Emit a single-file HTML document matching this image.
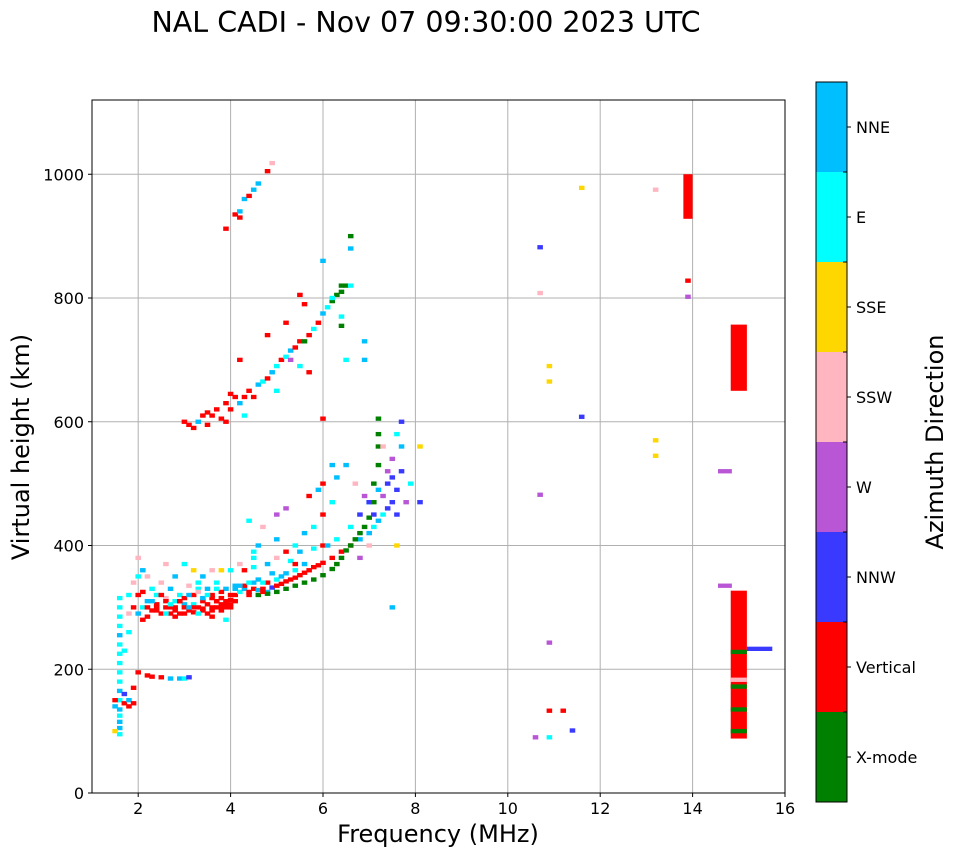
<!DOCTYPE html>
<html><head><meta charset="utf-8">
<style>
html,body{margin:0;padding:0;background:#fff;}
svg text{font-family:"DejaVu Sans","Liberation Sans",sans-serif;fill:#000;}
</style></head>
<body>
<svg id="chart" width="958" height="857" viewBox="0 0 958 857" xmlns="http://www.w3.org/2000/svg">
<text x="426" y="32" font-size="28.5" text-anchor="middle">NAL CADI - Nov 07 09:30:00 2023 UTC</text>
<g id="grid"></g>
<g id="marks"></g>
<rect x="92" y="100" width="693" height="693" fill="none" stroke="#000" stroke-width="1"/>
<g id="xticks"></g>
<g id="yticks"></g>
<text x="438" y="842" font-size="24" text-anchor="middle">Frequency (MHz)</text>
<text transform="translate(29,447) rotate(-90)" font-size="24" text-anchor="middle">Virtual height (km)</text>
<g id="cbar"></g>
<text transform="translate(943,442) rotate(-90)" font-size="24" text-anchor="middle">Azimuth Direction</text>
</svg>
<script>
const dirNames = ["X-mode","Vertical","NNW","W","SSW","SSE","E","NNE"];
const dirColors = ["#008000","#ff0000","#3a3aff","#b956d6","#ffb6c1","#ffd700","#00ffff","#00bfff"];
const xTicks = [2,4,6,8,10,12,14,16];
const yTicks = [0,200,400,600,800,1000];
const freqs = [1.6,1.6,1.6,1.6,1.6,1.6,1.6,1.6,1.6,1.6,1.6,1.6,1.6,1.6,1.6,1.6,1.6,1.5,1.5,1.5,1.7,1.7,1.8,1.8,1.9,1.9,1.7,1.8,1.8,1.8,1.9,1.9,2.0,2.0,2.0,2.0,2.1,2.1,2.1,2.2,2.2,2.2,
2.3,2.5,2.7,2.9,3.0,3.1,2.0,
2.3,2.4,2.5,2.6,2.7,2.8,2.9,3.0,3.1,3.2,3.3,3.4,3.5,3.6,3.7,3.8,3.9,4.0,3.8,3.6,3.4,3.2,3.0,2.8,2.6,2.4,2.5,2.7,2.9,3.1,3.3,3.5,3.7,3.9,4.1,4.2,4.3,4.4,4.5,4.6,4.7,4.8,4.9,5.0,5.1,5.2,5.3,5.4,5.5,5.6,5.7,5.8,5.9,6.0,6.2,6.4,6.6,6.8,7.0,7.1,7.2,7.3,7.4,7.5,7.6,7.7,7.7,7.6,7.7,
4.6,4.8,5.0,5.2,5.4,5.6,5.8,6.0,6.2,6.3,6.4,6.5,6.6,6.7,6.8,6.9,7.0,7.1,7.1,7.2,7.2,7.2,7.2,6.6,6.4,6.3,6.2,
4.0,4.2,4.5,4.8,5.0,5.2,5.4,5.6,5.8,6.0,6.2,6.3,6.5,6.7,6.9,7.0,7.1,7.3,7.4,7.5,7.3,7.5,7.6,7.8,7.9,8.1,8.1,7.6,7.0,6.8,6.0,5.2,5.0,4.7,4.4,3.9,3.0,2.6,2.8,3.2,3.6,3.8,3.4,2.2,2.3,7.5,6.0,6.2,5.7,5.9,
2.4,2.6,2.8,3.0,3.2,3.4,3.6,3.8,4.0,3.5,3.7,3.9,3.3,3.1,2.9,2.7,4.1,4.3,4.5,4.7,
3.0,3.1,3.2,3.3,3.4,3.5,3.6,3.7,3.8,3.9,4.0,4.1,4.2,4.3,4.4,4.5,4.6,4.7,4.8,4.9,5.0,5.1,5.2,5.3,5.4,5.5,5.6,5.7,5.8,5.9,6.0,6.1,6.2,6.4,6.5,6.6,6.6,6.4,6.4,6.5,6.9,6.9,6.0,5.7,5.5,5.3,5.0,4.8,5.2,5.6,5.5,6.0,4.0,4.3,3.5,3.9,4.2,
3.9,4.1,4.2,4.3,4.4,4.5,4.6,4.8,4.9,4.2,
10.7,10.7,10.9,10.9,11.6,11.6,13.2,13.2,13.2,10.7,10.9,10.9,10.6,10.9,11.2,11.4,13.9,13.9,14.7,14.7,15.45,
15.0,15.0,15.0,15.0,15.0,
3.5,3.6,3.7,3.8,3.9,4.0,4.1,3.6,3.8,4.0,3.4,3.2,3.0,2.8,2.6,2.4,2.2,2.1,2.3,2.5,2.7,2.9,3.1,3.3,4.2,4.4,4.6,4.8,5.0,5.2,5.4,5.6,4.3,4.5,4.9,5.3,5.5,5.8,6.1,6.3,6.6,6.8,7.0,7.2,7.4,3.3,3.7,4.1,4.4,4.7,5.1,5.4,5.0,4.6,4.5];
const heights = [95,105,115,125,135,150,165,180,195,210,225,240,255,270,285,300,315,100,140,150,145,160,150,140,145,170,230,260,290,320,340,300,380,350,320,290,280,300,360,285,310,190,
188,187,185,185,185,187,195,
295,300,290,300,290,295,290,290,295,292,300,298,305,300,310,305,310,312,315,315,310,305,305,310,315,320,340,330,320,335,340,330,340,330,320,325,330,325,330,328,330,325,332,335,338,342,345,348,352,356,360,365,368,372,380,390,400,410,420,430,440,450,460,470,490,520,560,580,600,
320,322,325,330,335,340,345,352,362,370,380,392,400,410,420,430,445,470,500,530,560,580,605,900,820,805,795,
360,370,380,370,380,390,400,420,430,450,470,510,530,500,480,470,450,480,520,540,560,510,450,470,500,470,560,400,400,380,400,460,450,430,440,280,370,370,350,360,360,360,350,350,330,300,500,530,480,490,
305,310,300,315,320,315,320,325,320,320,310,300,330,320,310,300,330,335,340,325,
600,595,590,600,610,615,610,620,605,630,620,640,630,640,650,640,660,665,670,680,690,700,705,715,720,730,730,740,750,760,775,785,800,810,820,820,880,770,755,700,730,700,605,680,690,700,650,740,760,790,805,860,645,610,595,600,700,
912,935,940,960,965,975,985,1005,1018,930,
882,808,690,665,608,978,975,570,545,482,243,90,90,133,133,101,828,802,520,335,233,
228,172,135,100,183,
290,295,300,300,305,305,310,285,295,300,295,300,300,285,290,295,300,325,310,320,305,310,300,290,335,340,345,340,345,355,360,370,360,365,355,375,390,395,400,410,430,450,470,490,500,325,330,335,320,340,350,370,410,400,390];
const dirs = [6,7,7,6,7,6,7,6,6,6,6,6,7,6,6,6,6,5,7,1,1,2,7,1,1,1,6,6,4,6,4,1,4,6,1,7,1,6,7,1,7,1,
1,1,7,7,6,2,1,
1,1,1,1,1,1,1,1,1,1,1,1,1,1,1,1,1,1,1,1,1,6,7,6,4,6,4,7,6,4,6,7,6,7,1,6,7,1,1,7,1,7,2,1,1,1,1,1,1,1,1,1,1,1,1,1,1,7,7,6,7,6,2,2,2,2,7,6,2,
0,0,0,0,0,0,0,0,0,0,0,0,0,0,0,0,0,0,0,0,0,0,0,0,0,0,0,
6,4,6,7,4,1,6,7,6,1,6,7,7,4,3,6,2,3,3,3,4,2,2,3,6,2,5,5,4,3,1,3,3,4,6,6,6,4,7,5,4,5,7,4,6,7,1,7,1,7,
1,1,1,1,1,7,1,1,1,6,1,1,6,7,1,1,7,1,7,1,
1,1,1,7,1,1,1,1,1,1,1,1,7,1,1,1,7,6,1,7,6,1,6,7,1,1,0,1,6,1,7,6,6,0,0,6,7,6,0,6,7,7,1,1,6,3,6,1,1,1,1,7,1,6,1,1,1,
1,1,7,7,1,7,7,1,4,1,
2,4,5,5,2,5,4,5,5,3,3,6,3,1,1,2,1,3,3,3,2,
0,0,0,0,4,
1,1,1,1,1,1,1,1,1,1,1,1,1,1,6,1,1,1,7,1,6,1,7,6,7,6,7,1,6,7,6,7,1,6,7,6,7,6,7,6,6,2,2,7,2,4,6,7,1,6,7,1,7,7,6];
const barFreqs = [13.9,15.0,15.0];
const barLows = [928,650,88];
const barHighs = [1000,757,327];
const barDirs = [1,1,1];

const X0=92,X1=785,Y0=793,Y1=100;
const xs = f => X0 + (f-1)/(16-1)*(X1-X0);
const ys = h => Y0 - h/1120*(Y0-Y1);
const NS="http://www.w3.org/2000/svg";
function mk(tag, parent){const e=document.createElementNS(NS,tag);parent.appendChild(e);return e;}

const grid=document.getElementById('grid'), xt=document.getElementById('xticks'), yt=document.getElementById('yticks');
xTicks.forEach(t=>{
  const x=xs(t);
  if(t<16){const l=mk('line',grid);l.setAttribute('x1',x);l.setAttribute('x2',x);l.setAttribute('y1',Y1);l.setAttribute('y2',Y0);l.setAttribute('stroke','#b0b0b0');l.setAttribute('stroke-width','1');
  
  }
  const tk=mk('line',xt);tk.setAttribute('x1',x);tk.setAttribute('x2',x);tk.setAttribute('y1',Y0);tk.setAttribute('y2',Y0+4);tk.setAttribute('stroke','#000');
  
  
  const tx=mk('text',xt);tx.setAttribute('x',x);tx.setAttribute('y',Y0+21);tx.setAttribute('font-size','16');tx.setAttribute('text-anchor','middle');tx.textContent=t;
  
  
});
yTicks.forEach(t=>{
  const y=ys(t);
  if(t>0){const l=mk('line',grid);l.setAttribute('x1',X0);l.setAttribute('x2',X1);l.setAttribute('y1',y);l.setAttribute('y2',y);l.setAttribute('stroke','#b0b0b0');
  
  }
  const tk=mk('line',yt);tk.setAttribute('x1',X0-4);tk.setAttribute('x2',X0);tk.setAttribute('y1',y);tk.setAttribute('y2',y);tk.setAttribute('stroke','#000');
  
  
  const tx=mk('text',yt);tx.setAttribute('x',X0-8);tx.setAttribute('y',y+6);tx.setAttribute('font-size','16');tx.setAttribute('text-anchor','end');tx.textContent=t;
  
  
});

const marks=document.getElementById('marks');
barFreqs.forEach((f,i)=>{
  const w = f<14.5?0.2:0.35;
  const r=mk('rect',marks);
  r.setAttribute('x',xs(f-w/2));r.setAttribute('width',xs(f+w/2)-xs(f-w/2));
  r.setAttribute('y',ys(barHighs[i]));r.setAttribute('height',ys(barLows[i])-ys(barHighs[i]));
  r.setAttribute('fill',dirColors[barDirs[i]]);
  
  
});
freqs.forEach((f,i)=>{
  let w=0.12;
  if(f>=14.5 && f<=15.1) w=(f===15.0)?0.35:0.3;
  if(f>15.2) w=0.55;
  const r=mk('rect',marks);
  r.setAttribute('x',xs(f-w/2));r.setAttribute('width',xs(f+w/2)-xs(f-w/2));
  r.setAttribute('y',ys(heights[i]+3.5));r.setAttribute('height',ys(heights[i]-3.5)-ys(heights[i]+3.5));
  r.setAttribute('fill',dirColors[dirs[i]]);
  
  
});

const cb=document.getElementById('cbar');
const CB0=82, CBH=720, bh=CBH/dirNames.length;
dirNames.forEach((n,i)=>{
  const y=CB0+CBH-(i+1)*bh;
  const r=mk('rect',cb);r.setAttribute('x',816);r.setAttribute('y',y);r.setAttribute('width',31);r.setAttribute('height',bh);r.setAttribute('fill',dirColors[i]);
  
  
  const tk=mk('line',cb);tk.setAttribute('x1',847);tk.setAttribute('x2',851);tk.setAttribute('y1',y+bh/2);tk.setAttribute('y2',y+bh/2);tk.setAttribute('stroke','#000');
  
  
  const tx=mk('text',cb);tx.setAttribute('x',856);tx.setAttribute('y',y+bh/2+6);tx.setAttribute('font-size','16');tx.textContent=n;
  
  
});
for(let i=0;i<=dirNames.length;i++){
  const y=CB0+i*bh;
  const m=mk('line',cb);m.setAttribute('x1',843);m.setAttribute('x2',847);m.setAttribute('y1',y);m.setAttribute('y2',y);m.setAttribute('stroke','#000');
  
  
}
const fr=mk('rect',cb);fr.setAttribute('x',816);fr.setAttribute('y',CB0);fr.setAttribute('width',31);fr.setAttribute('height',CBH);fr.setAttribute('fill','none');fr.setAttribute('stroke','#000');


</script>
</body></html>
